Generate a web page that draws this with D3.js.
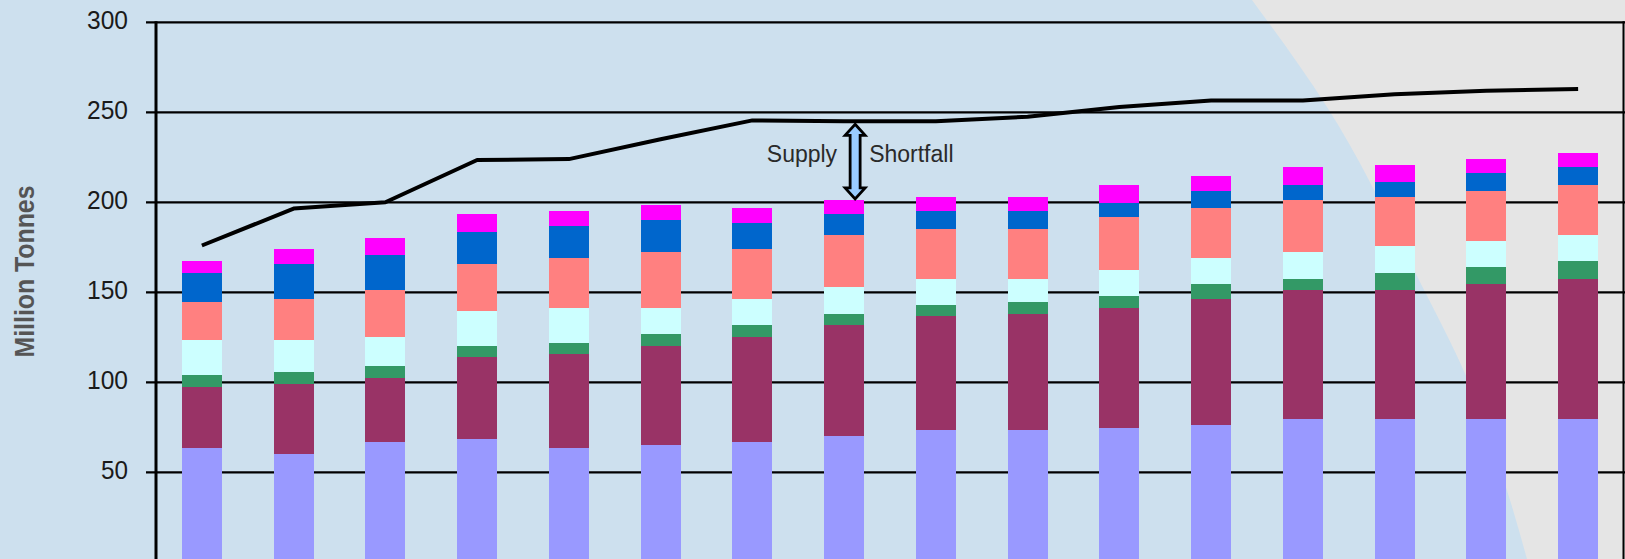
<!DOCTYPE html>
<html>
<head>
<meta charset="utf-8">
<script src="https://cdn.jsdelivr.net/npm/d3@7"></script>
<style>
  html, body { margin: 0; padding: 0; background: #cde0ee; overflow: hidden; }
  svg { display: block; }
</style>
</head>
<body>
<svg id="chart" width="1625" height="559"></svg>
<script>
// years along the bottom (axis itself is cut off in the picture)
var years = ["2005","2006","2007","2008","2009","2010","2011","2012",
             "2013","2014","2015","2016","2017","2018","2019","2020"];

// supply components, bottom to top (million tonnes)
var lavender = [63.5, 60.2, 66.8, 68.5, 63.5, 65.2, 66.8, 70.2, 73.5, 73.5, 74.6, 76.3, 79.6, 79.6, 79.6, 79.6];
var maroon   = [33.9, 38.9, 35.6, 45.6, 52.2, 55.0, 58.4, 61.6, 63.3, 64.4, 66.7, 70.0, 71.7, 71.7, 75.0, 77.8];
var green    = [6.7, 6.6, 6.7, 6.1, 6.1, 6.6, 6.6, 6.1, 6.2, 6.7, 6.7, 8.3, 6.1, 9.4, 9.5, 10.0];
var cyan     = [19.4, 17.8, 16.1, 19.4, 19.5, 14.5, 14.5, 15.0, 14.4, 12.8, 14.4, 14.5, 15.0, 15.0, 14.4, 14.4];
var salmon   = [21.1, 22.8, 26.1, 26.1, 27.8, 31.1, 27.8, 28.9, 27.8, 27.8, 29.4, 27.7, 28.9, 27.2, 27.8, 27.8];
var blue     = [16.1, 19.4, 19.2, 17.8, 17.7, 17.8, 14.4, 11.7, 10.0, 10.0, 7.8, 9.5, 8.3, 8.4, 10.0, 10.0];
var magenta  = [6.7, 8.4, 9.7, 10.0, 8.4, 8.3, 8.3, 7.8, 7.8, 7.8, 10.0, 8.3, 10.0, 9.4, 7.8, 7.8];

// demand line
var demand = [176, 196.5, 200, 223.5, 224, 235, 245.5, 245, 245, 247.5, 253, 256.5, 256.5, 260, 262, 263];

var yTicks = [50, 100, 150, 200, 250, 300];
var shortfallYear = "2012";

var keys = ["lavender","maroon","green","cyan","salmon","blue","magenta"];
var colors = {lavender:"#9999ff", maroon:"#993366", green:"#339966", cyan:"#ccffff",
              salmon:"#ff8080", blue:"#0066cc", magenta:"#ff00ff"};
var seriesArr = {lavender:lavender, maroon:maroon, green:green, cyan:cyan,
                 salmon:salmon, blue:blue, magenta:magenta};

var rows = years.map(function(yr, i) {
    var r = {year: yr};
    keys.forEach(function(k) { r[k] = seriesArr[k][i]; });
    return r;
});

var W = 1625, H = 559;
var svg = d3.select("#chart");

var x = d3.scaleBand().domain(years).range([156, 1624])
    .paddingInner(0.565).paddingOuter(0.2825);
var y = d3.scaleLinear().domain([0, 300]).range([562.3, 22.3]);

// background: light blue with grey wedge on the right
svg.append("rect").attr("width", W).attr("height", H).attr("fill", "#cde0ee");
var edge = [[1252,0],[1327,107],[1420,282],[1467,378],[1510,500],[1527,559]];
var edgePath = d3.line().curve(d3.curveMonotoneY)(edge);
svg.append("path")
    .attr("d", edgePath + "L" + W + "," + H + "L" + W + ",0Z")
    .attr("fill", "#e5e5e5");

// gridlines + tick labels
svg.append("g").selectAll("line").data(yTicks).join("line")
    .attr("x1", 146).attr("x2", W)
    .attr("y1", function(d) { return y(d); })
    .attr("y2", function(d) { return y(d); })
    .attr("stroke", "#000").attr("stroke-width", 2.2);

svg.append("g").attr("class", "ticks").selectAll("text").data(yTicks).join("text")
    .attr("x", 128)
    .attr("y", function(d) { return y(d) + 7; })
    .attr("text-anchor", "end")
    .style("font-family", "'Liberation Sans', Arial, sans-serif")
    .style("font-size", "25px")
    .attr("textLength", function(d) { return d < 100 ? 27 : 41; })
    .attr("lengthAdjust", "spacingAndGlyphs")
    .attr("fill", "#1a1a1a")
    .text(function(d) { return d; });

// stacked bars
var stacked = d3.stack().keys(keys)(rows);
svg.append("g").selectAll("g").data(stacked).join("g")
    .attr("fill", function(d) { return colors[d.key]; })
  .selectAll("rect").data(function(d) { return d; }).join("rect")
    .attr("x", function(d) { return x(d.data.year); })
    .attr("width", x.bandwidth())
    .attr("y", function(d) { return y(d[1]); })
    .attr("height", function(d) { return y(d[0]) - y(d[1]); })
    .attr("shape-rendering", "crispEdges");

// axis line and right frame
svg.append("line").attr("x1", 156).attr("x2", 156).attr("y1", y(300) - 1).attr("y2", H)
    .attr("stroke", "#000").attr("stroke-width", 3);
svg.append("line").attr("x1", 1623.5).attr("x2", 1623.5).attr("y1", y(300) - 1).attr("y2", H)
    .attr("stroke", "#000").attr("stroke-width", 2);

// demand line
var line = d3.line()
    .x(function(d, i) { return x(years[i]) + x.bandwidth() / 2; })
    .y(function(d) { return y(d); });
svg.append("path").datum(demand)
    .attr("d", line)
    .attr("fill", "none")
    .attr("stroke", "#000")
    .attr("stroke-width", 4)
    .attr("stroke-linejoin", "round");

// supply shortfall double arrow (between demand and total supply)
var si = years.indexOf(shortfallYear);
var supplyTotal = keys.reduce(function(s, k) { return s + seriesArr[k][si]; }, 0);
var ax = x(shortfallYear) + x.bandwidth() / 2 + 11;
var arrowTop = y(demand[si]) + 3, arrowBot = y(supplyTotal) - 1;
var hw = 10, sw = 5, hh = 11;
var arrow = [
    [ax, arrowTop], [ax + hw, arrowTop + hh], [ax + sw, arrowTop + hh], [ax + sw, arrowBot - hh],
    [ax + hw, arrowBot - hh], [ax, arrowBot], [ax - hw, arrowBot - hh], [ax - sw, arrowBot - hh],
    [ax - sw, arrowTop + hh], [ax - hw, arrowTop + hh]
];
svg.append("path")
    .attr("d", d3.line()(arrow) + "Z")
    .attr("fill", "#99ccff")
    .attr("stroke", "#000")
    .attr("stroke-width", 2.8)
    .attr("stroke-linejoin", "miter");

var labelY = 161.5;
svg.append("text").attr("x", ax - 18).attr("y", labelY)
    .attr("text-anchor", "end")
    .style("font-family", "'Liberation Sans', Arial, sans-serif")
    .style("font-size", "23px").attr("fill", "#2a2a2a")
    .text("Supply");
svg.append("text").attr("x", ax + 14).attr("y", labelY)
    .style("font-family", "'Liberation Sans', Arial, sans-serif")
    .style("font-size", "23px").attr("fill", "#2a2a2a")
    .text("Shortfall");

// y axis title
svg.append("text")
    .attr("transform", "translate(34," + 271.5 + ") rotate(-90)")
    .attr("text-anchor", "middle")
    .style("font-family", "'Liberation Sans', Arial, sans-serif")
    .style("font-size", "27px")
    .style("font-weight", "bold")
    .attr("textLength", 172).attr("lengthAdjust", "spacingAndGlyphs")
    .attr("fill", "#555")
    .text("Million Tonnes");
</script>
</body>
</html>
